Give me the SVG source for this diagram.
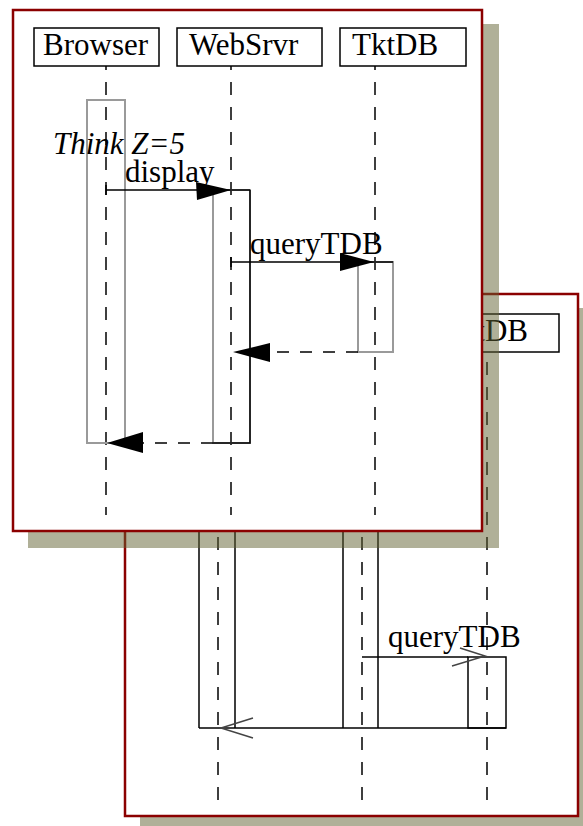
<svg xmlns="http://www.w3.org/2000/svg" width="583" height="826" viewBox="0 0 583 826">
<style>
.frame{fill:#fff;stroke:#8b0000;stroke-width:2.5}
.shadow{fill:#b0b098}
.shadow-tr{fill:rgb(97,97,49);fill-opacity:.5}
.hdr{fill:#fff;stroke:#000;stroke-width:1.5}
.txt{font-family:"Liberation Serif","Times New Roman",serif;font-size:31px;fill:#000}
.it{font-style:italic}
.life{stroke:#000;stroke-width:1.5;stroke-dasharray:13 12;fill:none}
.actg{fill:none;stroke:#9a9a9a;stroke-width:2}
.act{fill:none;stroke:#000;stroke-width:1.5}
.msg{stroke:#000;stroke-width:1.5;fill:none}
.ret{stroke:#000;stroke-width:1.5;stroke-dasharray:12 11;fill:none}
.head{fill:#000}
.open{stroke:#444;stroke-width:1.5;fill:none}
</style>

<!-- back panel -->
<rect class="shadow" x="140" y="308" width="453" height="522"/>
<rect class="frame" x="125" y="294" width="453" height="522"/>
<g id="back">
  <g id="back-tktdb">
    <rect class="hdr" x="433" y="314" width="126" height="38"/>
    <text class="txt" x="528" y="341" text-anchor="end">TktDB</text>
  </g>
  <g id="back-lifelines">
    <line class="life" x1="218" y1="352" x2="218" y2="800" stroke-dashoffset="15"/>
    <line class="life" x1="362" y1="352" x2="362" y2="800" stroke-dashoffset="15"/>
    <line class="life" x1="487" y1="352" x2="487" y2="800" stroke-dashoffset="15"/>
  </g>
  <g id="back-act-websrvr"><path class="act" d="M199,500 V728 M235,500 V728"/></g>
  <g id="back-act-tktdb1"><path class="act" d="M343,500 V728 M378,500 V728"/></g>
  <g id="back-act-tktdb2"><rect class="act" x="468" y="657" width="38" height="71"/></g>
  <g id="back-connectors">
    <path class="msg" d="M362,657 H468"/>
    <path class="open" d="M452,666 L485,656 L460,648"/>
    <text class="txt" x="388" y="647">queryTDB</text>
    <path class="msg" d="M506,728 H199"/>
    <path class="open" d="M253,718 L221,728 L253,738"/>
  </g>
</g>

<!-- front panel -->
<rect class="shadow-tr" x="28" y="24" width="471" height="524"/>
<rect class="frame" x="13" y="10" width="469" height="521"/>
<g id="front">
  <g id="browser">
    <rect class="hdr" x="34" y="28" width="125" height="38"/>
    <text class="txt" x="43" y="55">Browser</text>
  </g>
  <g id="websrvr">
    <rect class="hdr" x="177" y="28" width="145" height="38"/>
    <text class="txt" x="189" y="55">WebSrvr</text>
  </g>
  <g id="tktdb">
    <rect class="hdr" x="340" y="28" width="126" height="38"/>
    <text class="txt" x="352" y="55">TktDB</text>
  </g>
  <g id="lifelines">
    <line class="life" x1="106" y1="66" x2="106" y2="515" stroke-dashoffset="9"/>
    <line class="life" x1="231" y1="66" x2="231" y2="515" stroke-dashoffset="9"/>
    <line class="life" x1="375" y1="66" x2="375" y2="515" stroke-dashoffset="9"/>
  </g>
  <g id="act-browser"><rect class="actg" x="87" y="100" width="38" height="343"/></g>
  <g id="act-websrvr"><rect class="actg" x="213" y="190" width="37" height="253"/><path class="act" d="M250,190 V443 H213"/></g>
  <g id="act-tktdb"><rect class="actg" x="358" y="262" width="35" height="90"/></g>
  <g id="note"><text class="txt it" x="53" y="154">Think Z=5</text></g>
  <g id="connectors">
    <path class="msg" d="M106,185 V195 M106,190 H250"/>
    <polygon class="head" points="231,190 196,182 197,200"/>
    <text class="txt" x="125" y="182">display</text>
    <path class="msg" d="M231,257 V267 M231,262 H393"/>
    <polygon class="head" points="374,262 340,253 340,271"/>
    <text class="txt" x="250" y="254">queryTDB</text>
    <path class="ret" d="M358,352 H262"/>
    <polygon class="head" points="233,352 270,343 270,362"/>
    <path class="ret" d="M213,443 H136"/>
    <polygon class="head" points="107,443 143,432 143,453"/>
  </g>
</g>
</svg>
